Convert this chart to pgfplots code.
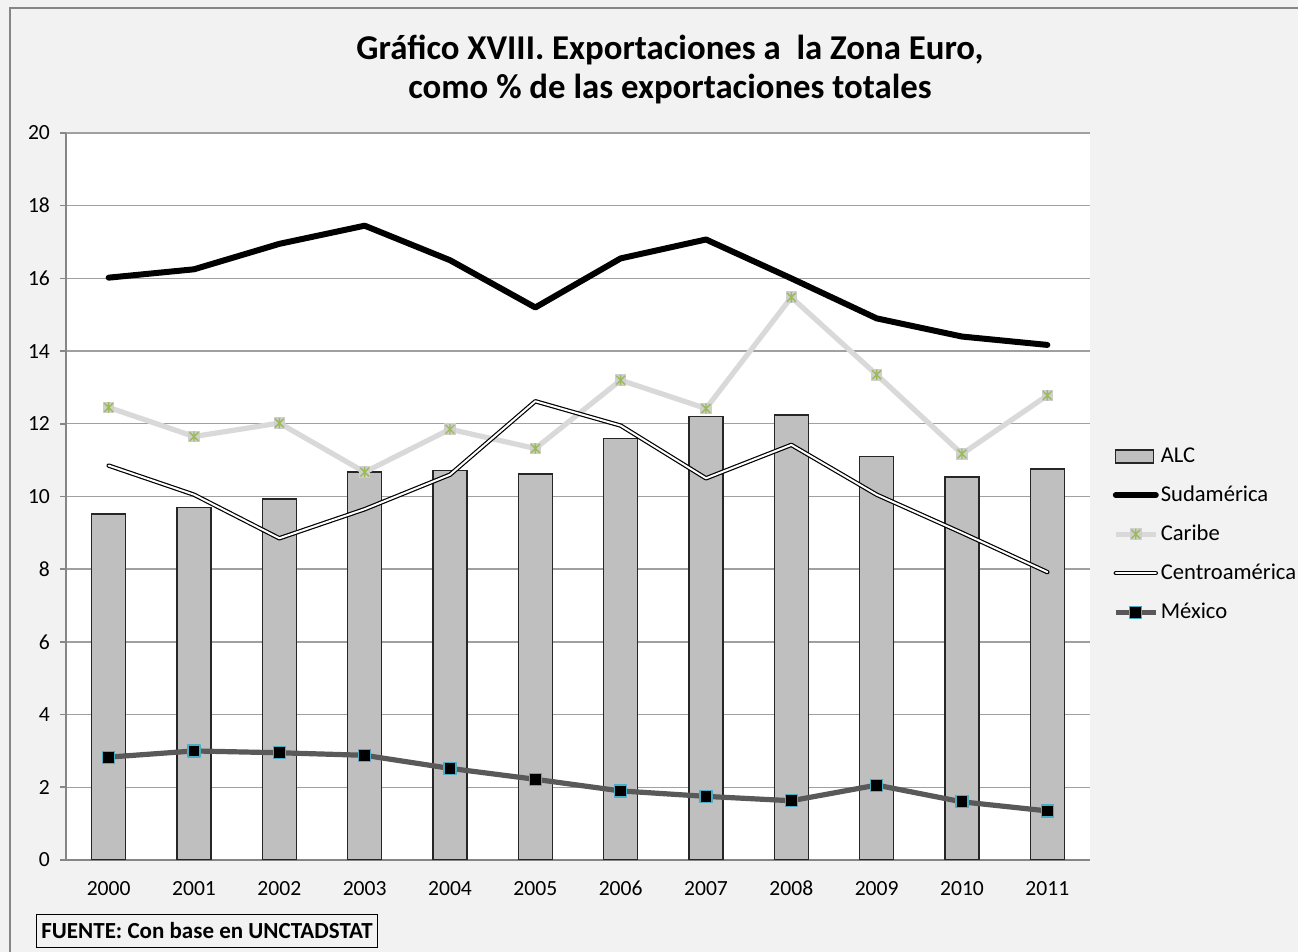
\documentclass[border=0pt]{standalone}
\usepackage{fontspec}
\setmainfont{Carlito}
\usepackage{pgfplots}
\pgfplotsset{compat=1.18}

\definecolor{bgc}{HTML}{F2F2F2}
\definecolor{framec}{HTML}{868686}
\definecolor{gridc}{HTML}{A0A0A0}
\definecolor{barc}{HTML}{BFBFBF}
\definecolor{carigray}{HTML}{D9D9D9}
\definecolor{carimark}{HTML}{CFCFCF}
\definecolor{carigreen}{HTML}{9BBB59}
\definecolor{mexc}{HTML}{595959}
\definecolor{mexedge}{HTML}{4BACC6}

% Excel "star" marker: grey square with a green asterisk
\pgfdeclareplotmark{caribe}{%
  \pgfpathrectangle{\pgfpoint{-\pgfplotmarksize}{-\pgfplotmarksize}}{\pgfpoint{2\pgfplotmarksize}{2\pgfplotmarksize}}%
  \pgfsetfillcolor{carimark}\pgfusepath{fill}%
  \pgfsetstrokecolor{carigreen}\pgfsetlinewidth{0.7pt}%
  \pgfpathmoveto{\pgfpoint{-0.75\pgfplotmarksize}{-0.75\pgfplotmarksize}}%
  \pgfpathlineto{\pgfpoint{0.75\pgfplotmarksize}{0.75\pgfplotmarksize}}%
  \pgfpathmoveto{\pgfpoint{-0.75\pgfplotmarksize}{0.75\pgfplotmarksize}}%
  \pgfpathlineto{\pgfpoint{0.75\pgfplotmarksize}{-0.75\pgfplotmarksize}}%
  \pgfpathmoveto{\pgfpoint{0pt}{-0.9\pgfplotmarksize}}%
  \pgfpathlineto{\pgfpoint{0pt}{0.9\pgfplotmarksize}}%
  \pgfusepath{stroke}%
}

\pgfplotsset{
  xls line legend/.style={legend image code/.code={\draw[mark repeat=2,mark phase=2,##1] plot coordinates {(0pt,0pt) (10pt,0pt) (20pt,0pt)};}},
  xls box legend/.style={legend image code/.code={\draw[##1, line width=0.7pt] (0pt,-3.2pt) rectangle (19pt,3.2pt);}},
}

% 1 px of the reference = 0.5pt
\begin{document}
\begin{tikzpicture}
\fill[bgc] (0,0) rectangle (649pt,476pt);
\draw[framec, line width=0.8pt] (5pt,0) -- (5pt,472pt) -- (649pt,472pt);

\node[font=\bfseries\fontsize{17.4}{19.5}\selectfont, align=center] at (335pt,441pt)
  {Gráfico XVIII. Exportaciones a\ \ la Zona Euro,\\como \% de las exportaciones totales};

\begin{axis}[
  at={(33pt,46pt)}, anchor=south west,
  scale only axis, width=512pt, height=363.5pt,
  xmin=-0.5, xmax=11.5, ymin=0, ymax=20,
  axis x line=bottom, axis y line=left,
  axis line style={framec, line width=0.9pt, -},
  axis background/.style={fill=white},
  xtick={0,...,11},
  xticklabels={2000,2001,2002,2003,2004,2005,2006,2007,2008,2009,2010,2011},
  xtick style={draw=none},
  ytick={0,2,...,20},
  tick align=outside, major tick length=3pt,
  ytick style={framec, line width=0.8pt},
  ymajorgrids, major grid style={gridc, line width=0.7pt},
  tick label style={font=\fontsize{10.8}{12}\selectfont},
  xticklabel style={text height=6.9pt, text depth=0pt, yshift=-4.5pt},
  yticklabel style={xshift=-1.5pt},
  /pgf/number format/assume math mode=true,
  legend style={at={(1.016,0.576)}, anchor=north west, draw=none, fill=none,
    font=\fontsize{11.3}{13}\selectfont, row sep=8.2pt,
    nodes={inner sep=1pt}},
  legend cell align=left,
  xls line legend,
]
\addplot[ybar, bar width=17pt, bar shift=0pt, fill=barc, draw=black!85, line width=0.8pt, xls box legend]
  coordinates {(0,9.52) (1,9.70) (2,9.93) (3,10.67) (4,10.72) (5,10.62) (6,11.60) (7,12.20) (8,12.25) (9,11.10) (10,10.53) (11,10.75)};
\addlegendentry{ALC}
\addplot[black, line width=3pt, line cap=round, line join=round, no marks]
  coordinates {(0,16.02) (1,16.25) (2,16.95) (3,17.45) (4,16.50) (5,15.20) (6,16.55) (7,17.07) (8,16.00) (9,14.90) (10,14.40) (11,14.17)};
\addlegendentry{Sudamérica}
\addplot[carigray, line width=2.6pt, line join=round, mark=caribe, mark size=2.9pt]
  coordinates {(0,12.45) (1,11.65) (2,12.02) (3,10.67) (4,11.85) (5,11.32) (6,13.20) (7,12.42) (8,15.48) (9,13.35) (10,11.17) (11,12.78)};
\addlegendentry{Caribe}
\addplot[draw=black, double=white, double distance=1pt, line width=0.6pt, line join=round, line cap=round, no marks]
  coordinates {(0,10.85) (1,10.05) (2,8.85) (3,9.65) (4,10.60) (5,12.62) (6,11.95) (7,10.50) (8,11.42) (9,10.05) (10,9.00) (11,7.92)};
\addlegendentry{Centroamérica}
\addplot[mexc, line width=2.6pt, line join=round, mark=square*,
  mark size=3pt, mark options={fill=black, draw=mexedge, line width=0.6pt}]
  coordinates {(0,2.83) (1,3.00) (2,2.95) (3,2.88) (4,2.52) (5,2.22) (6,1.90) (7,1.75) (8,1.63) (9,2.06) (10,1.60) (11,1.35)};
\addlegendentry{México}
\end{axis}

\node[draw=black, line width=0.6pt, font=\bfseries\fontsize{11.5}{13}\selectfont,
  inner xsep=2.5pt, minimum height=16.5pt] at (103.5pt,10.5pt) {FUENTE: Con base en UNCTADSTAT};

\pgfresetboundingbox
\path[use as bounding box] (0,0) rectangle (649pt,476pt);
\end{tikzpicture}
\end{document}
